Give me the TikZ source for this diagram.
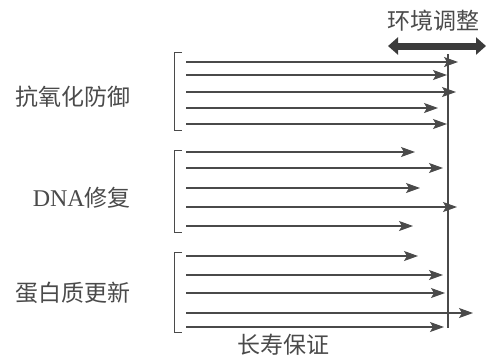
\documentclass[tikz,border=0pt]{standalone}
\usepackage{fontspec}
\newfontfamily\cjk{Noto Sans CJK SC}
\newfontfamily\lat{Liberation Serif}
\usetikzlibrary{arrows.meta}
\definecolor{ink}{HTML}{4A4A4A}
\tikzset{
  lbl/.style={font=\cjk\fontsize{23}{27}\selectfont, text=ink, inner sep=0pt},
  flow/.style={draw=ink, line width=1.1pt, -{Stealth[length=14pt,width=10pt,inset=3pt]}},
  brk/.style={draw=ink, line width=1pt},
  axis/.style={draw=ink, line width=1.3pt},
  dbl/.style={draw=ink!80!black, line width=7pt, {Stealth[length=10pt,width=17pt,inset=0pt]}-{Stealth[length=10pt,width=17pt,inset=0pt]}}
}
\begin{document}
\begin{tikzpicture}[x=1pt,y=-1pt]
\useasboundingbox (0,0) rectangle (486,360);
% labels
\node[lbl, anchor=east] (l1) at (131,97) {抗氧化防御};
\node[lbl, anchor=east] (l2) at (131,198) {{\lat\fontsize{24}{28}\selectfont DNA}修复};
\node[lbl, anchor=east] (l3) at (131,293) {蛋白质更新};
\node[lbl] (top) at (433,21) {环境调整};
\node[lbl] (bot) at (283,345) {长寿保证};
% brackets
\draw[brk] (182,52) -- (174,52) -- (174,130) -- (182,130);
\draw[brk] (182,150) -- (174,150) -- (174,232) -- (182,232);
\draw[brk] (182,252) -- (174,252) -- (174,332) -- (182,332);
% vertical axis
\coordinate (vt) at (448,54);
\coordinate (vb) at (448,328);
\draw[axis] (vt) -- (vb);
% double arrow
\coordinate (da) at (388,46);
\coordinate (db) at (486,46);
\draw[dbl] (da) -- (db);
% arrows
\foreach \i/\y/\e in {1/62/458, 2/75/447, 3/92/456, 4/108/438, 5/124/447,
                      6/152/415, 7/168/443, 8/188/420, 9/207/457, 10/226/413,
                      11/256/418, 12/275/443, 13/293/445, 14/313/473, 15/327/444}{
  \coordinate (s\i) at (186,\y);
  \coordinate (e\i) at (\e,\y);
  \draw[flow] (s\i) -- (e\i);
}
\end{tikzpicture}
\end{document}
